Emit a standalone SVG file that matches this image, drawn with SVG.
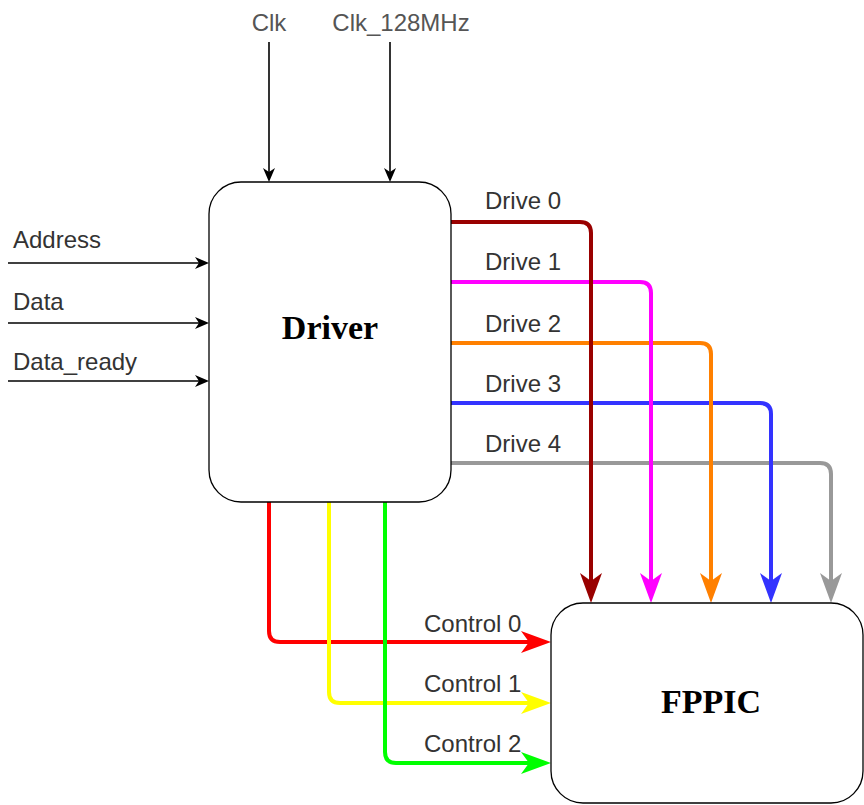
<svg xmlns="http://www.w3.org/2000/svg" width="864" height="805" viewBox="0 0 864 805">
<style>
.box{fill:#fff;stroke:#000;stroke-width:1.3}
.title{font-family:"Liberation Serif",serif;font-weight:bold;font-size:34px;fill:#000}
.lbl{font-family:"Liberation Sans",Arial,sans-serif;font-size:24px;fill:#333}
.clk{fill:#555}
.thin{fill:none;stroke:#000;stroke-width:1.6}
.wire{fill:none;stroke-width:4}
</style>
<defs>
<marker id="ab" markerUnits="userSpaceOnUse" markerWidth="14" markerHeight="12" refX="4" refY="6" orient="auto" overflow="visible"><path d="M0,0 L14,6 L0,12 L4,6 Z" fill="#000"/></marker>
<marker id="a0" markerUnits="userSpaceOnUse" markerWidth="30" markerHeight="22" refX="8" refY="11" orient="auto" overflow="visible"><path d="M0,0 L30,11 L0,22 L8,11 Z" fill="#990000"/></marker>
<marker id="a1" markerUnits="userSpaceOnUse" markerWidth="30" markerHeight="22" refX="8" refY="11" orient="auto" overflow="visible"><path d="M0,0 L30,11 L0,22 L8,11 Z" fill="#FF00FF"/></marker>
<marker id="a2" markerUnits="userSpaceOnUse" markerWidth="30" markerHeight="22" refX="8" refY="11" orient="auto" overflow="visible"><path d="M0,0 L30,11 L0,22 L8,11 Z" fill="#FF8000"/></marker>
<marker id="a3" markerUnits="userSpaceOnUse" markerWidth="30" markerHeight="22" refX="8" refY="11" orient="auto" overflow="visible"><path d="M0,0 L30,11 L0,22 L8,11 Z" fill="#3333FF"/></marker>
<marker id="a4" markerUnits="userSpaceOnUse" markerWidth="30" markerHeight="22" refX="8" refY="11" orient="auto" overflow="visible"><path d="M0,0 L30,11 L0,22 L8,11 Z" fill="#999999"/></marker>
<marker id="c0" markerUnits="userSpaceOnUse" markerWidth="30" markerHeight="22" refX="8" refY="11" orient="auto" overflow="visible"><path d="M0,0 L30,11 L0,22 L8,11 Z" fill="#FF0000"/></marker>
<marker id="c1" markerUnits="userSpaceOnUse" markerWidth="30" markerHeight="22" refX="8" refY="11" orient="auto" overflow="visible"><path d="M0,0 L30,11 L0,22 L8,11 Z" fill="#FFFF00"/></marker>
<marker id="c2" markerUnits="userSpaceOnUse" markerWidth="30" markerHeight="22" refX="8" refY="11" orient="auto" overflow="visible"><path d="M0,0 L30,11 L0,22 L8,11 Z" fill="#00FF00"/></marker>
</defs>
<rect width="864" height="805" fill="#fff"/>
<g id="connectors">
<path class="thin" d="M269,42 V172" marker-end="url(#ab)"/>
<path class="thin" d="M390,42 V172" marker-end="url(#ab)"/>
<path class="thin" d="M8,263 H199" marker-end="url(#ab)"/>
<path class="thin" d="M8,323 H199" marker-end="url(#ab)"/>
<path class="thin" d="M8,381 H199" marker-end="url(#ab)"/>
<path class="wire" stroke="#999999" d="M451,463 H820 Q831,463 831,474 V581" marker-end="url(#a4)"/>
<path class="wire" stroke="#3333FF" d="M451,403 H760 Q771,403 771,414 V581" marker-end="url(#a3)"/>
<path class="wire" stroke="#FF8000" d="M451,343 H700 Q711,343 711,354 V581" marker-end="url(#a2)"/>
<path class="wire" stroke="#FF00FF" d="M451,282 H640 Q651,282 651,293 V581" marker-end="url(#a1)"/>
<path class="wire" stroke="#990000" d="M451,222 H580 Q591,222 591,233 V581" marker-end="url(#a0)"/>
<path class="wire" stroke="#FF0000" d="M269,502 V631 Q269,642 280,642 H529" marker-end="url(#c0)"/>
<path class="wire" stroke="#FFFF00" d="M329,502 V692 Q329,703 340,703 H529" marker-end="url(#c1)"/>
<path class="wire" stroke="#00FF00" d="M385,502 V752 Q385,763 396,763 H529" marker-end="url(#c2)"/>
<text class="lbl clk" x="269" y="31" text-anchor="middle">Clk</text>
<text class="lbl clk" x="401" y="31" text-anchor="middle">Clk_128MHz</text>
<text class="lbl" x="13" y="248">Address</text>
<text class="lbl" x="13" y="310">Data</text>
<text class="lbl" x="13" y="370">Data_ready</text>
<text class="lbl" x="485" y="209">Drive 0</text>
<text class="lbl" x="485" y="270">Drive 1</text>
<text class="lbl" x="485" y="332">Drive 2</text>
<text class="lbl" x="485" y="392">Drive 3</text>
<text class="lbl" x="485" y="452">Drive 4</text>
<text class="lbl" x="424" y="632">Control 0</text>
<text class="lbl" x="424" y="692">Control 1</text>
<text class="lbl" x="424" y="752">Control 2</text>
</g>
<g id="driver">
<rect class="box" x="209" y="182" width="242" height="320" rx="32" ry="32"/>
<text class="title" x="330" y="339" text-anchor="middle">Driver</text>
</g>
<g id="fppic">
<rect class="box" x="551" y="603" width="312" height="200" rx="32" ry="32"/>
<text class="title" x="711" y="713" text-anchor="middle">FPPIC</text>
</g>
</svg>
